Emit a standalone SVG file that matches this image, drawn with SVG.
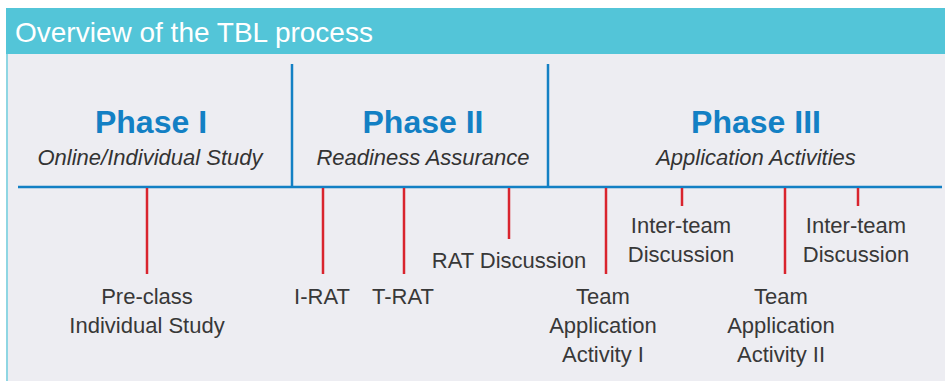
<svg xmlns="http://www.w3.org/2000/svg" width="945" height="381" viewBox="0 0 945 381">
  <style>
    .phase { font-family: "Liberation Sans", Arial, sans-serif; font-weight: bold; font-size: 32px; fill: #1380C4; text-anchor: middle; }
    .sub { font-family: "Liberation Sans", Arial, sans-serif; font-style: italic; font-size: 22px; fill: #333; text-anchor: middle; }
    .lbl { font-family: "Liberation Sans", Arial, sans-serif; font-size: 22px; fill: #383838; text-anchor: middle; }
    .axis { stroke: #1380C4; stroke-width: 2.5; fill: none; }
    .tick { stroke: #D9242E; stroke-width: 2.5; fill: none; }
  </style>
  <rect x="0" y="0" width="945" height="381" fill="#ffffff"/>
  <!-- panel -->
  <rect x="6" y="54" width="939" height="327" fill="#EDEDF2"/>
  <line x1="7" y1="54" x2="7" y2="381" stroke="#8FD6E3" stroke-width="2"/>
  <rect x="6" y="8" width="939" height="46" fill="#53C5D8"/>
  <text x="15" y="42" font-family="'Liberation Sans', Arial, sans-serif" font-size="28" fill="#ffffff">Overview of the TBL process</text>

  <g id="connectors">
    <line class="axis" x1="18" y1="187" x2="942" y2="187"/>
    <line class="axis" x1="292" y1="64" x2="292" y2="187"/>
    <line class="axis" x1="548" y1="64" x2="548" y2="187"/>
    <line class="tick" x1="147" y1="188" x2="147" y2="274"/>
    <line class="tick" x1="323" y1="188" x2="323" y2="274"/>
    <line class="tick" x1="404" y1="188" x2="404" y2="274"/>
    <line class="tick" x1="509" y1="188" x2="509" y2="239"/>
    <line class="tick" x1="606" y1="188" x2="606" y2="274"/>
    <line class="tick" x1="682" y1="188" x2="682" y2="206"/>
    <line class="tick" x1="785" y1="188" x2="785" y2="274"/>
    <line class="tick" x1="858" y1="188" x2="858" y2="206"/>
  </g>

  <g id="phase1">
    <text class="phase" x="151" y="133">Phase I</text>
    <text class="sub" x="150" y="165">Online/Individual Study</text>
  </g>
  <g id="phase2">
    <text class="phase" x="423" y="133">Phase II</text>
    <text class="sub" x="423" y="165">Readiness Assurance</text>
  </g>
  <g id="phase3">
    <text class="phase" x="756" y="133">Phase III</text>
    <text class="sub" x="756" y="165">Application Activities</text>
  </g>

  <g id="preclass">
    <text class="lbl" x="147" y="304">Pre-class</text>
    <text class="lbl" x="147" y="333">Individual Study</text>
  </g>
  <g id="irat"><text class="lbl" x="322" y="304">I-RAT</text></g>
  <g id="trat"><text class="lbl" x="403" y="304">T-RAT</text></g>
  <g id="ratdiscussion"><text class="lbl" x="509" y="268">RAT Discussion</text></g>
  <g id="tapp1">
    <text class="lbl" x="603" y="304">Team</text>
    <text class="lbl" x="603" y="333">Application</text>
    <text class="lbl" x="603" y="362">Activity I</text>
  </g>
  <g id="inter1">
    <text class="lbl" x="681" y="233">Inter-team</text>
    <text class="lbl" x="681" y="262">Discussion</text>
  </g>
  <g id="tapp2">
    <text class="lbl" x="781" y="304">Team</text>
    <text class="lbl" x="781" y="333">Application</text>
    <text class="lbl" x="781" y="362">Activity II</text>
  </g>
  <g id="inter2">
    <text class="lbl" x="856" y="233">Inter-team</text>
    <text class="lbl" x="856" y="262">Discussion</text>
  </g>
</svg>
